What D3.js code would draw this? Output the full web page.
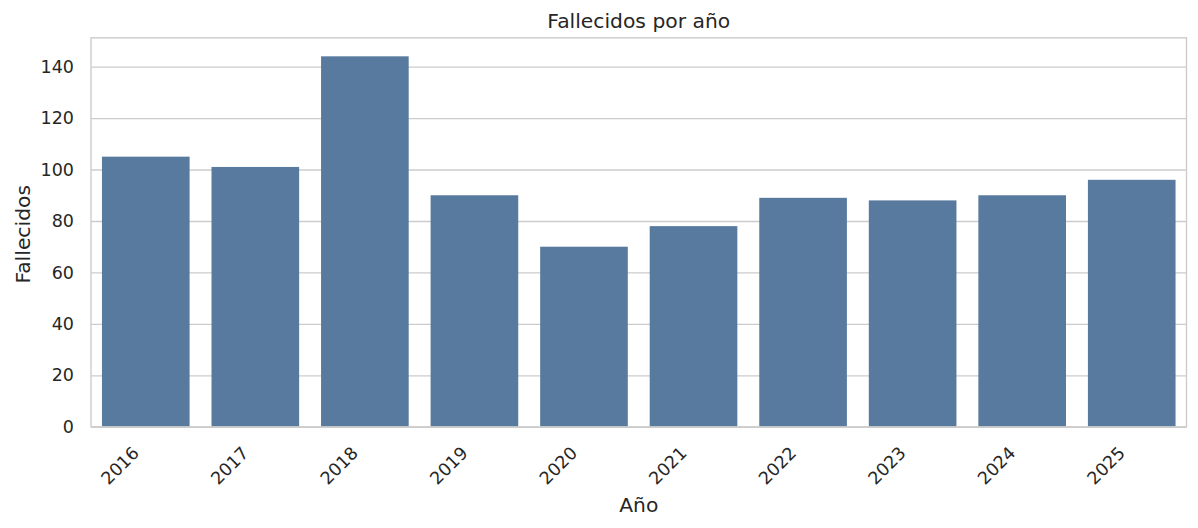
<!DOCTYPE html>
<html>
<head>
<meta charset="utf-8">
<script src="https://cdn.jsdelivr.net/npm/d3@7"></script>
<style>
  html, body { margin: 0; padding: 0; background: #ffffff; }
  svg { display: block; }
  text { font-family: "DejaVu Sans", sans-serif; fill: #262626; }
</style>
</head>
<body>
<svg id="chart" width="1198" height="528"></svg>
<script>
const years = ["2016", "2017", "2018", "2019", "2020", "2021", "2022", "2023", "2024", "2025"];
const deaths = [105, 101, 144, 90, 70, 78, 89, 88, 90, 96];
const yTicks = [0, 20, 40, 60, 80, 100, 120, 140];
const titleText = "Fallecidos por año";
const xLabel = "Año";
const yLabel = "Fallecidos";

const W = 1198, H = 528;
const m = { left: 91, right: 1186.5, top: 37.8, bottom: 426.8 };
const svg = d3.select("#chart");

const x = d3.scaleBand().domain(years).range([m.left, m.right]).paddingInner(0.2).paddingOuter(0.1);
const y = d3.scaleLinear().domain([0, d3.max(deaths) * 1.05]).range([m.bottom, m.top]);

// grid
const yAxis = d3.axisLeft(y).tickValues(yTicks).tickSize(-(m.right - m.left)).tickPadding(17);
const gy = svg.append("g").attr("transform", `translate(${m.left},0)`).call(yAxis);
gy.select(".domain").remove();
gy.selectAll(".tick line").attr("stroke", "#cccccc").attr("stroke-width", 1.3);
gy.selectAll(".tick text").style("font-size", "17.5px").attr("fill", "#262626");

// bars
svg.append("g").selectAll("rect").data(years).join("rect")
  .attr("x", d => x(d))
  .attr("width", x.bandwidth())
  .attr("y", (d, i) => y(deaths[i]))
  .attr("height", (d, i) => y(0) - y(deaths[i]))
  .attr("fill", "#587a9e");

// spines
svg.append("rect")
  .attr("x", m.left).attr("y", m.top)
  .attr("width", m.right - m.left).attr("height", m.bottom - m.top)
  .attr("fill", "none").attr("stroke", "#cccccc").attr("stroke-width", 1.4);

// x tick labels
const xAxis = d3.axisBottom(x).tickSize(0).tickPadding(0);
const gx = svg.append("g").attr("transform", `translate(0,${m.bottom})`).call(xAxis);
gx.select(".domain").remove();
gx.selectAll(".tick text")
  .style("font-size", "17.5px")
  .attr("text-anchor", "end")
  .attr("dy", "0.35em")
  .attr("y", 0)
  .attr("transform", "translate(-10,23) rotate(-45)");

// title
svg.append("text").attr("x", (m.left + m.right) / 2).attr("y", 27.5)
  .attr("text-anchor", "middle").style("font-size", "20.3px").text(titleText);

// x label
svg.append("text").attr("x", (m.left + m.right) / 2).attr("y", 512)
  .attr("text-anchor", "middle").style("font-size", "20.3px").text(xLabel);

// y label
svg.append("text").attr("transform", `translate(30,${(m.top + m.bottom) / 2 + 2}) rotate(-90)`)
  .attr("text-anchor", "middle").style("font-size", "20.3px").text(yLabel);
</script>
</body>
</html>
